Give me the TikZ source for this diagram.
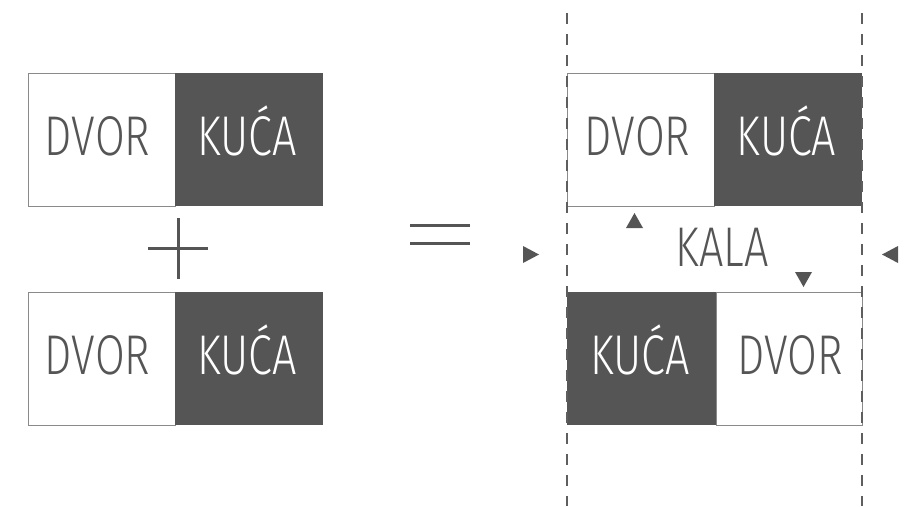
\documentclass[tikz,border=0pt]{standalone}
\usepackage{fontspec}
\setmainfont{Fira Sans}[UprightFont=* Light, FakeStretch=0.77]
\definecolor{dk}{HTML}{555555}
\definecolor{edgegray}{HTML}{8A8A8A}
\definecolor{guidegray}{HTML}{5E5E5E}
\begin{document}
\begin{tikzpicture}[x=1pt,y=-1pt,
  litebox/.style={draw=edgegray, line width=1.2pt, fill=white, minimum width=147pt, minimum height=133pt, inner sep=0pt, anchor=north west},
  darkbox/.style={fill=dk, draw=none, minimum width=148pt, minimum height=133pt, inner sep=0pt, anchor=north west},
  word/.style={anchor=base, inner sep=0pt, font=\fontsize{56}{60}\selectfont},
  onlite/.style={word, text=dk},
  ondark/.style={word, text=white},
  sym/.style={draw=dk, line width=3pt},
  guide/.style={draw=guidegray, line width=2pt, dash pattern=on 11pt off 10pt},
  tri/.style={fill=dk, draw=none}
]
\useasboundingbox (0,0) rectangle (907,506);

% left top
\node[litebox] (lt1) at (28,73) {};
\node[darkbox] (lt2) at (175,73) {};
\node[onlite] (lt1t) at (97.5,155) {DVOR};
\node[ondark] (lt2t) at (247,155) {KUĆA};

% plus
\draw[sym] (148,248) -- (208,248);
\draw[sym] (178,218) -- (178,279);

% left bottom
\node[litebox] (lb1) at (28,292) {};
\node[darkbox] (lb2) at (175,292) {};
\node[onlite] (lb1t) at (97.5,374) {DVOR};
\node[ondark] (lb2t) at (247,374) {KUĆA};

% equals
\draw[sym] (410,225) -- (470,225);
\draw[sym] (410,243) -- (470,243);

% right top
\node[litebox] (rt1) at (567,73) {};
\node[darkbox] (rt2) at (714,73) {};
\node[onlite] (rt1t) at (637.5,155) {DVOR};
\node[ondark] (rt2t) at (786.5,155) {KUĆA};

% right bottom
\node[darkbox, minimum width=149pt] (rb1) at (567,292) {};
\node[litebox, minimum width=146pt] (rb2) at (716,292) {};
\node[ondark] (rb1t) at (640,374) {KUĆA};
\node[onlite] (rb2t) at (790,374) {DVOR};

% KALA
\node[onlite] (kala) at (722,266) {KALA};

% guides
\coordinate (g1a) at (567,13);
\coordinate (g1b) at (567,506);
\coordinate (g2a) at (862,13);
\coordinate (g2b) at (862,506);
\draw[guide] (g1a) -- (g1b);
\draw[guide] (g2a) -- (g2b);

% triangles
\fill[tri] (523,246) -- (539,254.5) -- (523,263) -- cycle;
\fill[tri] (898,246) -- (882,254.5) -- (898,263) -- cycle;
\fill[tri] (626,228) -- (634.5,213) -- (643,228) -- cycle;
\fill[tri] (795,272) -- (812,272) -- (803.5,287) -- cycle;
\end{tikzpicture}
\end{document}
